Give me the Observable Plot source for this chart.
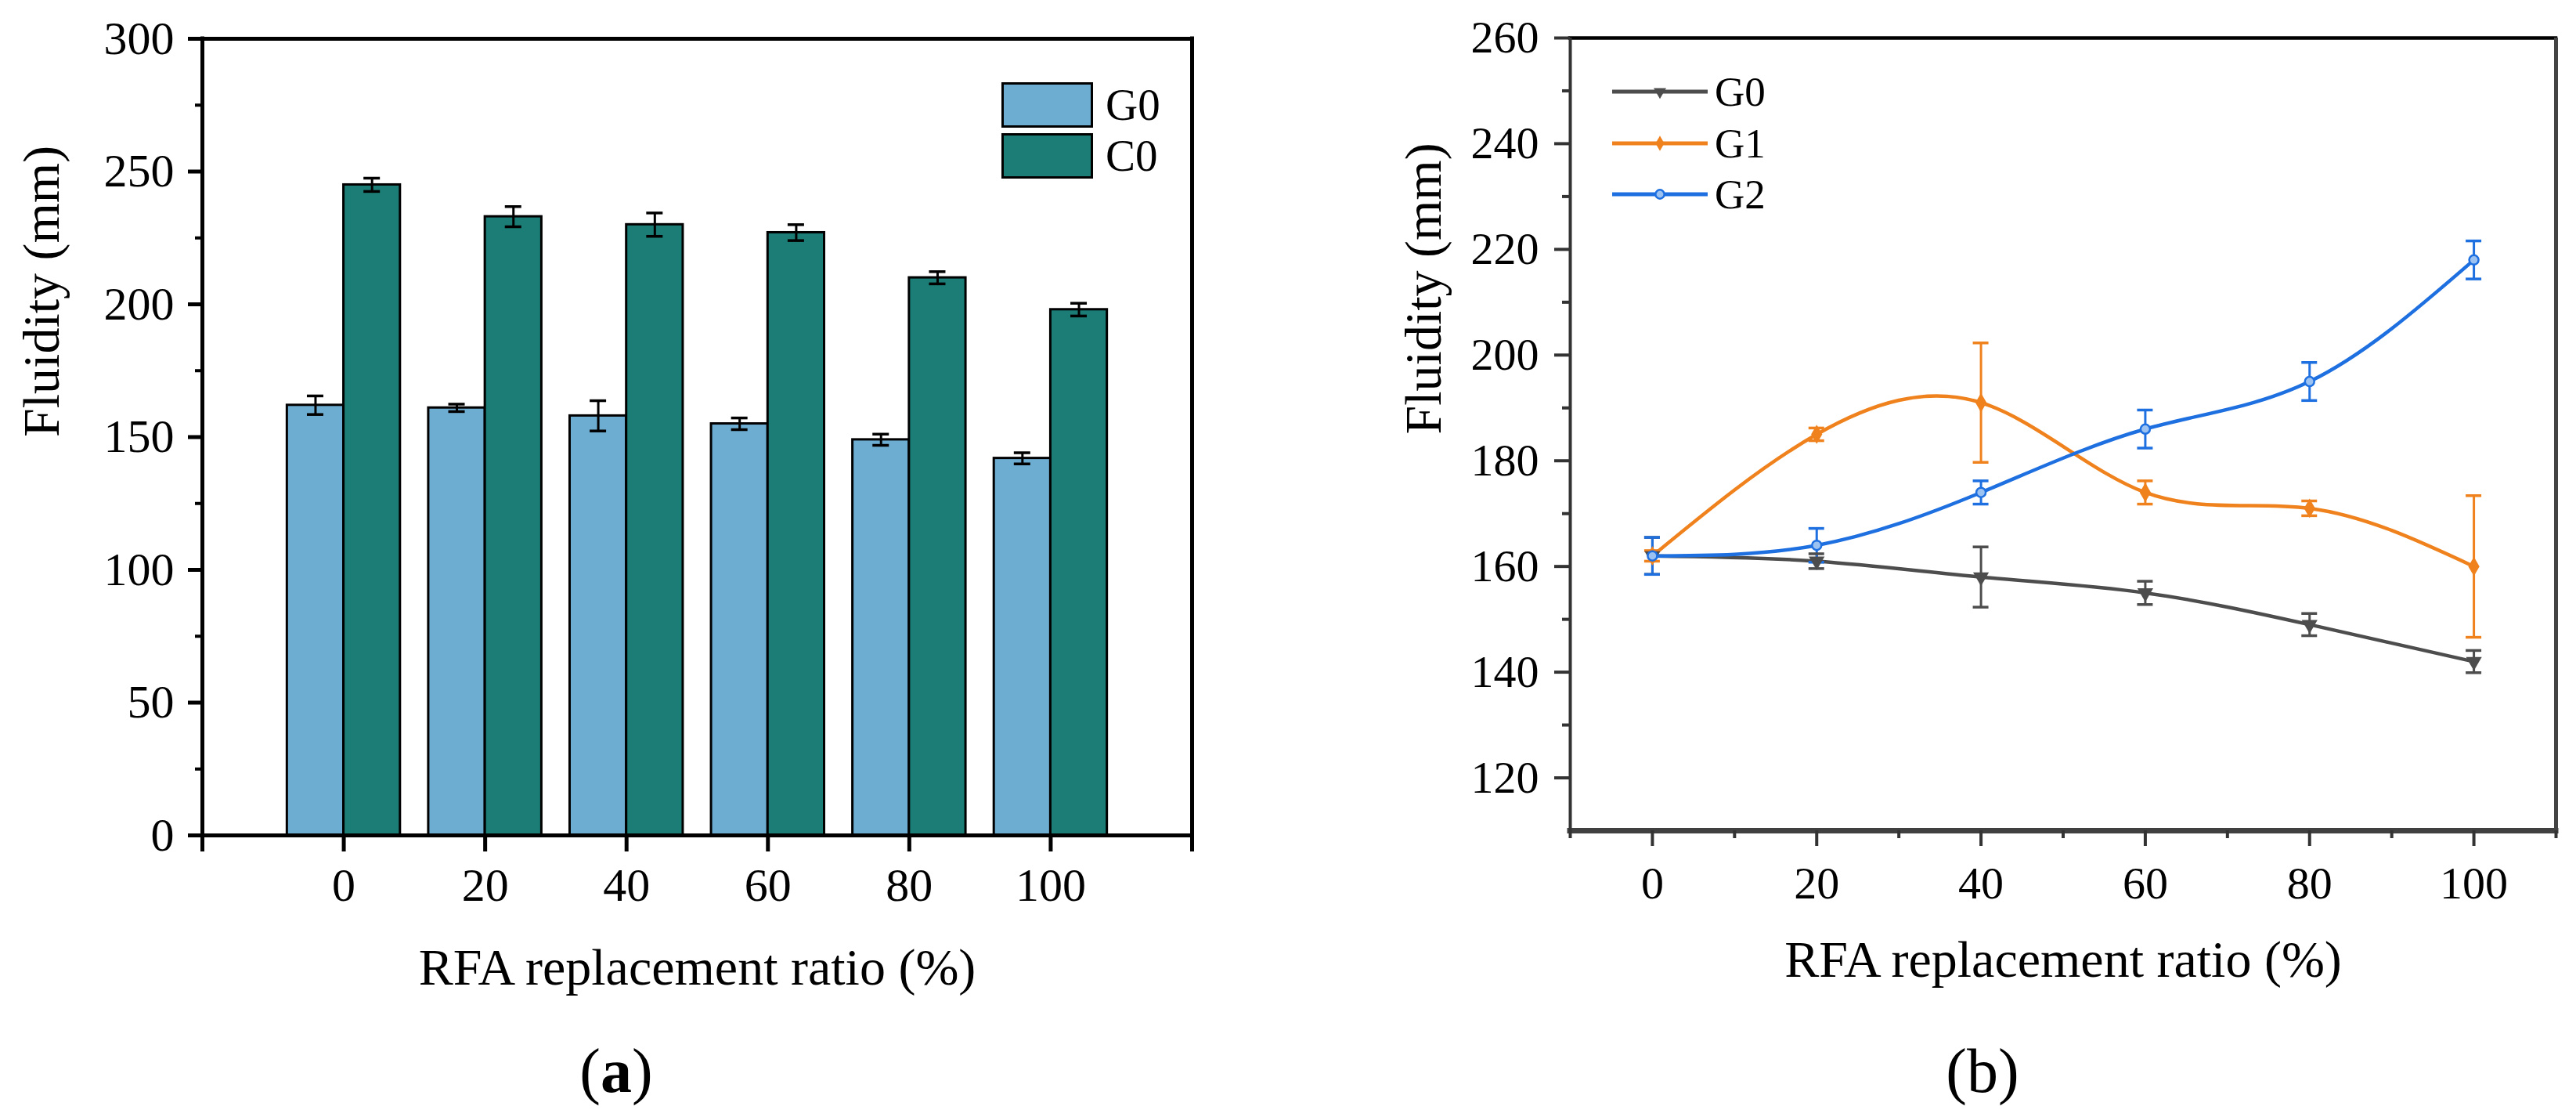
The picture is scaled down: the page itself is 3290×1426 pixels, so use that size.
<!DOCTYPE html>
<html>
<head>
<meta charset="utf-8">
<script src="https://cdn.jsdelivr.net/npm/d3@7"></script>
<script src="https://cdn.jsdelivr.net/npm/@observablehq/plot@0.6"></script>
<style>
  html, body { margin: 0; padding: 0; background: #fff; }
  body { width: 3290px; height: 1426px; position: relative; overflow: hidden;
         font-family: "Liberation Serif", "Times New Roman", serif; color: #000; }
  #panelA, #panelB { position: absolute; top: 0; }
  #panelA { left: 0; }
  #panelB { left: 1650px; }
  #overlay { position: absolute; left: 0; top: 0; pointer-events: none; }
  .cap { position: absolute; font-size: 80px; line-height: 1; transform: translateX(-50%); white-space: nowrap; }
</style>
</head>
<body>
<div id="panelA"></div>
<div id="panelB"></div>
<svg id="overlay" width="3290" height="1426"></svg>
<div class="cap" style="left:787px; top:1327px;">(<b>a</b>)</div>
<div class="cap" style="left:2532px; top:1327px;">(b)</div>
<script>
// ---------------- data ----------------
const ratios = [0, 20, 40, 60, 80, 100];
const g0Fluidity = [162, 161, 158, 155, 149, 142];
const g0Error    = [3.5, 1.4, 5.7, 2.2, 2.1, 2.1];
const c0Fluidity = [245, 233, 230, 227, 210, 198];
const c0Error    = [2.5, 3.8, 4.4, 3.0, 2.3, 2.4];
const g1Fluidity = [162, 185, 191, 174, 171, 160];
const g1Error    = [1.0, 1.2, 11.3, 2.2, 1.4, 13.4];
const g2Fluidity = [162, 164, 174, 186, 195, 218];
const g2Error    = [3.5, 3.2, 2.2, 3.6, 3.6, 3.6];

const xTickLabels = [0, 20, 40, 60, 80, 100];
const yTicksA = [0, 50, 100, 150, 200, 250, 300];
const yMinorA = [25, 75, 125, 175, 225, 275];
const xMajorA = [-20, 0, 20, 40, 60, 80, 100, 120];
const yTicksB = [120, 140, 160, 180, 200, 220, 240, 260];
const yMinorB = [130, 150, 170, 190, 210, 230, 250];
const xMinorB = [-10, 10, 30, 50, 70, 90, 110];

const seriesNames = ["G0", "G1", "G2"];
const seriesColors = ["#4D4D4D", "#F0821E", "#1E6FE0"];

const serif = '"Liberation Serif", "Times New Roman", serif';

// ---------------- panel (a) ----------------
const WA = 1650, HA = 1426;
const mA = {left: 258, right: WA - 1522, top: 49, bottom: HA - 1066};
const xDomA = [-20, 120];
const barW = 8;
const capA = 10.5 * (xDomA[1] - xDomA[0]) / (WA - mA.left - mA.right);

const rowsA = ratios.map((r, i) => ({
  ratio: r, g0: g0Fluidity[i], g0e: g0Error[i], c0: c0Fluidity[i], c0e: c0Error[i]
}));

const errMarksA = (key, ekey, off) => [
  Plot.ruleX(rowsA, {x: d => d.ratio + off, y1: d => d[key] - d[ekey], y2: d => d[key] + d[ekey], stroke: "#000", strokeWidth: 3}),
  Plot.ruleY(rowsA, {y: d => d[key] + d[ekey], x1: d => d.ratio + off - capA, x2: d => d.ratio + off + capA, stroke: "#000", strokeWidth: 3.5}),
  Plot.ruleY(rowsA, {y: d => d[key] - d[ekey], x1: d => d.ratio + off - capA, x2: d => d.ratio + off + capA, stroke: "#000", strokeWidth: 3.5})
];

const plotA = Plot.plot({
  width: WA, height: HA,
  marginLeft: mA.left, marginRight: mA.right, marginTop: mA.top, marginBottom: mA.bottom,
  style: {fontFamily: serif, background: "transparent", color: "#000", overflow: "visible"},
  x: {domain: xDomA, label: null},
  y: {domain: [0, 300], label: null},
  marks: [
    Plot.rect(rowsA, {x1: d => d.ratio - barW, x2: d => d.ratio, y1: 0, y2: "g0", fill: "#6EADD2", stroke: "#000", strokeWidth: 3}),
    Plot.rect(rowsA, {x1: d => d.ratio, x2: d => d.ratio + barW, y1: 0, y2: "c0", fill: "#1B7D75", stroke: "#000", strokeWidth: 3}),
    ...errMarksA("g0", "g0e", -barW / 2),
    ...errMarksA("c0", "c0e", barW / 2),
    Plot.ruleY([0, 300], {stroke: "#000", strokeWidth: 5, strokeLinecap: "square"}),
    Plot.ruleX(xDomA, {stroke: "#000", strokeWidth: 5, strokeLinecap: "square"}),
    Plot.axisY({ticks: yTicksA, tickSize: 18, tickPadding: 18, strokeWidth: 5, fontSize: 60, label: null, tickFormat: d => String(d)}),
    Plot.axisY({ticks: yMinorA, tickSize: 9, strokeWidth: 4, label: null, tickFormat: () => ""}),
    Plot.axisX({ticks: xMajorA, tickSize: 21, tickPadding: 20, strokeWidth: 5, fontSize: 60, label: null,
                tickFormat: d => (xTickLabels.includes(d) ? String(d) : "")}),
    Plot.text(["RFA replacement ratio (%)"], {text: d => d, frameAnchor: "bottom", dy: 190, lineAnchor: "bottom", fontSize: 66, fill: "#000"}),
    Plot.text(["Fluidity (mm)"], {text: d => d, frameAnchor: "left", rotate: -90, dx: -205, lineAnchor: "middle", fontSize: 66, fill: "#000"})
  ]
});
document.getElementById("panelA").appendChild(plotA);

// ---------------- panel (b) ----------------
const WB = 1640, HB = 1426;
const mB = {left: 2005 - 1650, right: 1640 - (3264 - 1650), top: 48, bottom: HB - 1060};
const xDomB = [-10, 110];
const capB = 10 * (xDomB[1] - xDomB[0]) / (WB - mB.left - mB.right);

const seriesValues = [g0Fluidity, g1Fluidity, g2Fluidity];
const seriesErrors = [g0Error, g1Error, g2Error];
const rowsB = seriesNames.flatMap((s, k) => ratios.map((r, i) => ({
  series: s, ratio: r, value: seriesValues[k][i], err: seriesErrors[k][i]
})));
const only = s => rowsB.filter(d => d.series === s);

const plotB = Plot.plot({
  width: WB, height: HB,
  marginLeft: mB.left, marginRight: mB.right, marginTop: mB.top, marginBottom: mB.bottom,
  style: {fontFamily: serif, background: "transparent", color: "#000", overflow: "visible"},
  x: {domain: xDomB, label: null},
  y: {domain: [110, 260], label: null},
  color: {domain: seriesNames, range: seriesColors},
  marks: [
    Plot.line(rowsB, {x: "ratio", y: "value", z: "series", stroke: "series", curve: "natural", strokeWidth: 4.5}),
    Plot.ruleX(rowsB, {x: "ratio", y1: d => d.value - d.err, y2: d => d.value + d.err, stroke: "series", strokeWidth: 3}),
    Plot.ruleY(rowsB, {y: d => d.value + d.err, x1: d => d.ratio - capB, x2: d => d.ratio + capB, stroke: "series", strokeWidth: 3.5}),
    Plot.ruleY(rowsB, {y: d => d.value - d.err, x1: d => d.ratio - capB, x2: d => d.ratio + capB, stroke: "series", strokeWidth: 3.5}),
    Plot.dot(only("G0"), {x: "ratio", y: "value", symbol: "triangle", rotate: 180, r: 7.5, fill: "series", stroke: "none"}),
    Plot.dot(only("G1"), {x: "ratio", y: "value", symbol: "diamond", r: 7.5, fill: "series", stroke: "none"}),
    Plot.dot(only("G2"), {x: "ratio", y: "value", symbol: "circle", r: 6, fill: "#9CC2F2", stroke: "series", strokeWidth: 2.5}),
    Plot.ruleY([260], {stroke: "#000", strokeWidth: 4.5, strokeLinecap: "square"}),
    Plot.ruleY([110], {stroke: "#404040", strokeWidth: 7, strokeLinecap: "square"}),
    Plot.ruleX([-10], {stroke: "#333", strokeWidth: 4}),
    Plot.ruleX([110], {stroke: "#444", strokeWidth: 5}),
    Plot.axisY({ticks: yTicksB, tickSize: 20, tickPadding: 20, strokeWidth: 4, stroke: "#333", fontSize: 58, label: null, tickFormat: d => String(d)}),
    Plot.axisY({ticks: yMinorB, tickSize: 10, strokeWidth: 4, stroke: "#333", label: null, tickFormat: () => ""}),
    Plot.axisX({ticks: xTickLabels, tickSize: 20, tickPadding: 25, strokeWidth: 4, stroke: "#333", fontSize: 58, label: null, tickFormat: d => String(d)}),
    Plot.axisX({ticks: xMinorB, tickSize: 10, strokeWidth: 4, stroke: "#333", label: null, tickFormat: () => ""}),
    Plot.text(["RFA replacement ratio (%)"], {text: d => d, frameAnchor: "bottom", dy: 186, lineAnchor: "bottom", fontSize: 66, fill: "#000"}),
    Plot.text(["Fluidity (mm)"], {text: d => d, frameAnchor: "left", rotate: -90, dx: -187, lineAnchor: "middle", fontSize: 66, fill: "#000"})
  ]
});
document.getElementById("panelB").appendChild(plotB);

// ---------------- legends ----------------
const ov = d3.select("#overlay");
// legend (a)
const legA = [{name: "G0", fill: "#6EADD2", y: 105}, {name: "C0", fill: "#1B7D75", y: 170}];
legA.forEach(l => {
  ov.append("rect").attr("x", 1280.5).attr("y", l.y + 1.5).attr("width", 114).attr("height", 55)
    .attr("fill", l.fill).attr("stroke", "#000").attr("stroke-width", 3);
  ov.append("text").attr("x", 1412).attr("y", l.y + 48).attr("font-family", serif).attr("font-size", 57)
    .attr("fill", "#000").text(l.name);
});
// legend (b)
const legB = [
  {name: "G0", color: seriesColors[0], y: 117, sym: d3.symbolTriangle, rot: 180, fill: seriesColors[0], size: 110},
  {name: "G1", color: seriesColors[1], y: 183, sym: d3.symbolDiamond, rot: 0, fill: seriesColors[1], size: 110},
  {name: "G2", color: seriesColors[2], y: 248, sym: d3.symbolCircle, rot: 0, fill: "#9CC2F2", size: 100}
];
legB.forEach(l => {
  ov.append("line").attr("x1", 2059).attr("x2", 2181).attr("y1", l.y).attr("y2", l.y)
    .attr("stroke", l.color).attr("stroke-width", 5);
  ov.append("path").attr("d", d3.symbol(l.sym, l.size)())
    .attr("transform", `translate(2120,${l.y}) rotate(${l.rot})`)
    .attr("fill", l.fill).attr("stroke", l.sym === d3.symbolCircle ? l.color : "none").attr("stroke-width", 2.5);
  ov.append("text").attr("x", 2190).attr("y", l.y + 18).attr("font-family", serif).attr("font-size", 53)
    .attr("fill", "#000").text(l.name);
});
</script>
</body>
</html>
